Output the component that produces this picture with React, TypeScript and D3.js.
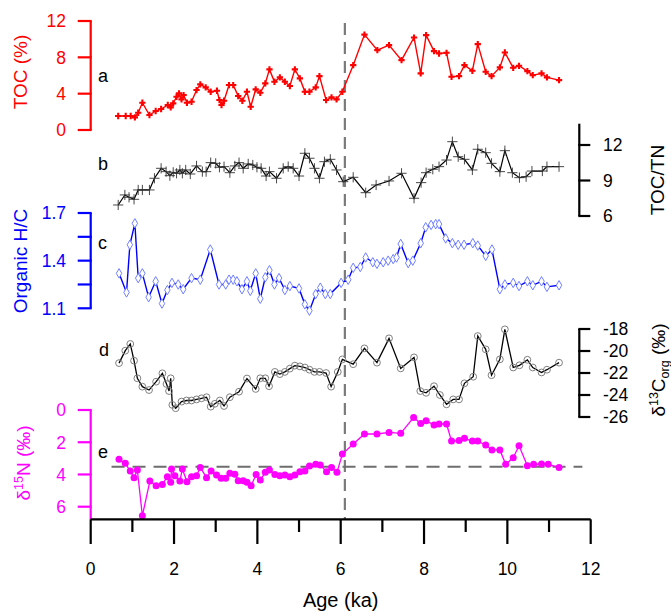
import React from "react";
import * as d3 from "d3";

// ---------- data ----------
const ageTicks = [0, 1, 2, 3, 4, 5, 6, 7, 8, 9, 10, 11, 12];
const ageLabels = [0, 2, 4, 6, 8, 10, 12];

const tocAge = [0.66,0.84,0.96,1.06,1.14,1.24,1.41,1.56,1.69,1.85,1.92,1.98,2.06,2.12,2.18,2.23,2.31,2.42,2.54,2.63,2.76,2.88,3.03,3.09,3.14,3.20,3.32,3.42,3.54,3.64,3.75,3.84,3.96,4.07,4.19,4.29,4.41,4.54,4.66,4.78,4.90,5.02,5.14,5.25,5.40,5.49,5.65,5.78,5.90,6.04,6.30,6.57,6.88,7.16,7.46,7.76,7.92,8.05,8.24,8.36,8.54,8.66,8.84,8.97,9.16,9.29,9.48,9.62,9.82,9.94,10.14,10.28,10.48,10.61,10.82,10.95,11.24];
const tocVal = [1.54,1.54,1.54,1.39,1.90,3.0,1.65,2.09,2.31,2.75,2.49,2.93,3.66,4.03,3.37,3.85,3.0,3.11,4.40,5.02,4.69,4.21,4.32,3.30,2.75,3.22,4.95,4.95,3.74,3.22,4.21,2.56,4.47,4.1,5.13,6.67,5.31,5.79,5.31,4.84,6.67,5.68,4.21,4.21,4.69,5.93,3.30,3.59,3.37,4.21,7.14,10.5,8.79,9.34,7.69,10.18,6.23,10.44,8.68,8.42,8.50,5.86,5.93,7.14,6.52,9.45,6.41,5.93,6.89,8.53,6.85,7.07,6.48,6.04,6.23,5.79,5.49];

const ctnAge = [0.66,0.82,0.92,1.04,1.14,1.24,1.41,1.53,1.69,1.81,1.90,1.98,2.06,2.14,2.20,2.28,2.39,2.54,2.68,2.77,2.88,3.00,3.09,3.20,3.34,3.46,3.56,3.66,3.78,3.89,3.99,4.09,4.21,4.29,4.46,4.62,4.74,4.86,5.00,5.14,5.25,5.37,5.49,5.61,5.75,5.90,6.06,6.30,6.60,6.85,7.16,7.46,7.76,7.93,8.05,8.21,8.36,8.54,8.68,8.82,8.97,9.16,9.29,9.48,9.62,9.82,9.94,10.12,10.29,10.45,10.59,10.84,10.95,11.24];
const ctnVal = [6.93,7.78,7.58,7.41,8.20,8.20,8.20,9.19,10.03,9.75,9.41,9.69,9.61,9.89,9.61,9.89,9.55,10.23,9.75,9.75,10.51,10.45,10.12,10.17,9.66,10.23,10.51,10.03,10.40,10.31,10.12,10.03,9.38,9.75,9.19,10.03,10.17,10.03,9.38,11.30,10.88,10.03,9.19,10.59,10.79,9.89,8.90,9.27,7.97,8.62,8.96,9.61,7.50,8.82,9.66,9.95,10.17,10.73,12.28,11.01,10.79,9.89,11.64,11.35,10.45,9.75,11.52,9.66,9.24,9.32,9.80,9.80,10.17,10.17];

const hcAge = [0.68,0.86,0.94,1.06,1.14,1.24,1.39,1.56,1.71,1.84,1.95,2.10,2.22,2.42,2.63,2.87,3.08,3.24,3.32,3.42,3.51,3.63,3.75,3.83,3.96,4.07,4.19,4.29,4.41,4.52,4.66,4.78,5.00,5.14,5.25,5.40,5.51,5.63,5.75,6.01,6.18,6.30,6.47,6.60,6.77,6.87,7.02,7.14,7.26,7.34,7.44,7.62,7.73,7.92,8.04,8.17,8.28,8.36,8.52,8.68,8.82,8.96,9.17,9.29,9.48,9.63,9.82,9.94,10.14,10.28,10.48,10.61,10.82,10.95,11.24];
const hcVal = [1.32,1.20,1.50,1.635,1.29,1.32,1.17,1.27,1.13,1.215,1.26,1.25,1.22,1.29,1.28,1.47,1.25,1.25,1.28,1.28,1.27,1.22,1.27,1.21,1.32,1.16,1.295,1.34,1.25,1.29,1.215,1.24,1.225,1.125,1.085,1.19,1.23,1.19,1.19,1.26,1.28,1.355,1.36,1.42,1.39,1.38,1.39,1.40,1.41,1.42,1.505,1.385,1.40,1.51,1.61,1.625,1.63,1.63,1.54,1.51,1.50,1.50,1.51,1.495,1.43,1.47,1.22,1.25,1.26,1.24,1.27,1.245,1.27,1.235,1.245];

const d13Age = [0.68,0.83,0.95,1.04,1.12,1.24,1.40,1.57,1.72,1.82,1.88,1.92,1.96,2.04,2.18,2.30,2.42,2.54,2.66,2.78,2.88,2.98,3.10,3.20,3.34,3.56,3.75,3.96,4.07,4.19,4.28,4.42,4.54,4.66,4.78,4.90,5.02,5.14,5.25,5.37,5.49,5.65,5.77,5.93,6.04,6.30,6.57,6.87,7.16,7.44,7.76,7.91,8.05,8.24,8.38,8.54,8.70,8.84,8.97,9.18,9.29,9.48,9.62,9.82,9.94,10.14,10.29,10.48,10.61,10.82,10.95,11.24];
const d13Val = [-21.1,-19.97,-19.36,-20.88,-22.48,-23.24,-23.55,-22.79,-22.03,-23.0,-23.64,-22.48,-24.9,-25.2,-24.6,-24.5,-24.5,-24.4,-24.3,-24.2,-25.06,-24.8,-24.5,-25.0,-24.2,-23.7,-22.5,-23.45,-22.48,-22.48,-23.2,-21.9,-22.1,-21.9,-21.6,-21.33,-21.4,-21.5,-21.7,-21.9,-21.9,-22.0,-23.24,-21.9,-20.76,-21.2,-19.76,-21.06,-18.85,-21.58,-20.58,-23.64,-23.8,-23.2,-24.0,-24.85,-24.4,-24.4,-22.94,-22.34,-18.64,-19.85,-22.2,-20.76,-18.03,-21.5,-21.3,-20.8,-21.5,-21.95,-21.7,-21.06];

const d15Age = [0.68,0.83,0.95,1.04,1.12,1.24,1.42,1.57,1.72,1.84,1.92,1.94,2.02,2.14,2.20,2.31,2.42,2.54,2.63,2.78,2.89,3.02,3.13,3.24,3.34,3.46,3.54,3.66,3.75,3.85,3.97,4.07,4.19,4.29,4.42,4.54,4.66,4.78,4.90,5.02,5.14,5.25,5.40,5.51,5.66,5.78,5.91,6.04,6.30,6.57,6.87,7.16,7.44,7.75,7.92,8.05,8.24,8.36,8.54,8.66,8.84,8.97,9.16,9.29,9.48,9.63,9.82,9.96,10.14,10.28,10.48,10.63,10.82,10.98,11.24];
const d15Val = [3.06,3.31,3.79,4.2,3.73,6.56,4.41,4.70,4.62,4.14,4.49,3.66,4.08,4.41,3.66,4.45,4.14,4.08,3.56,4.2,3.79,4.04,4.24,4.24,3.93,3.98,4.39,4.39,4.49,4.70,4.0,4.35,3.87,3.73,4.0,4.08,4.04,4.14,4.04,3.83,3.79,3.48,3.37,3.42,3.83,3.56,3.87,2.73,2.11,1.49,1.49,1.39,1.45,0.46,0.83,0.66,0.93,0.87,0.87,1.93,1.90,1.76,1.93,1.93,2.17,2.48,2.48,3.37,2.96,2.22,3.46,3.37,3.35,3.37,3.56];

const tocTicks = [0, 4, 8, 12];
const ctnTicks = [6, 9, 12];
const hcTicks = [1.1, 1.25, 1.4, 1.55, 1.7];
const hcLabels = [1.1, 1.4, 1.7];
const d13Ticks = [-18, -20, -22, -24, -26];
const d15Ticks = [0, 2, 4, 6];

const boundaryAge = 6.1;
const d15Reference = 3.52;
const d15RefSpan = [0.5, 11.8];

// ---------- component ----------
const FONT = "'Liberation Sans', Arial, Helvetica, sans-serif";

export default function App() {
  const W = 671, H = 612;
  const x = d3.scaleLinear().domain([0, 12]).range([90.7, 590.7]);
  const yA = d3.scaleLinear().domain([0, 12]).range([130, 21]);
  const yB = d3.scaleLinear().domain([6, 12]).range([216, 145]);
  const yC = d3.scaleLinear().domain([1.1, 1.7]).range([308.3, 213]);
  const yD = d3.scaleLinear().domain([-26, -18]).range([417, 329]);
  const yE = d3.scaleLinear().domain([0, 6]).range([410, 506.7]);
  const axisY = 519.3;
  const leftX = x(0);
  const rightX = 579.3;

  const mk = (ages: number[], vals: number[]) => ages.map((a, i) => [a, vals[i]] as [number, number]);
  const line = (ys: d3.ScaleLinear<number, number>) =>
    d3.line<[number, number]>().x(d => x(d[0])).y(d => ys(d[1]));

  const A = mk(tocAge, tocVal);
  const B = mk(ctnAge, ctnVal);
  const C = mk(hcAge, hcVal);
  const D = mk(d13Age, d13Val);
  const E = mk(d15Age, d15Val);

  const crossPath = d3.symbol(d3.symbolCross, 22)()!;
  const plusPath = d3.symbol(d3.symbolPlus, 36)()!;
  const diamondPath = d3.symbol(d3.symbolDiamond, 26)()!;

  const tickFs = 17.5;
  const titleFs = 19;

  const leftAxis = (ys: d3.ScaleLinear<number, number>, ticks: number[], labels: number[], color: string, y0: number, y1: number, fmt = (v: number) => String(v)) => (
    <g>
      <line x1={leftX} x2={leftX} y1={y0} y2={y1} stroke={color} strokeWidth={2.2} />
      {ticks.map(t => (
        <line key={"t" + t} x1={leftX - 13} x2={leftX + 1} y1={ys(t)} y2={ys(t)} stroke={color} strokeWidth={2.2} />
      ))}
      {labels.map(t => (
        <text key={"l" + t} x={66} y={ys(t)} dy="0.36em" textAnchor="end" fill={color} fontSize={tickFs} fontFamily={FONT}>{fmt(t)}</text>
      ))}
    </g>
  );

  const rightAxis = (ys: d3.ScaleLinear<number, number>, ticks: number[], y0: number, y1: number) => (
    <g>
      <line x1={rightX} x2={rightX} y1={y0} y2={y1} stroke="#000" strokeWidth={2.2} />
      {ticks.map(t => (
        <line key={"t" + t} x1={rightX - 1} x2={rightX + 11} y1={ys(t)} y2={ys(t)} stroke="#000" strokeWidth={2.2} />
      ))}
      {ticks.map(t => (
        <text key={"l" + t} x={603} y={ys(t)} dy="0.36em" textAnchor="start" fill="#000" fontSize={tickFs} fontFamily={FONT}>{String(t)}</text>
      ))}
    </g>
  );

  return (
    <svg width={W} height={H} style={{ position: "absolute", left: 0, top: 0, background: "#fff" }} fontFamily={FONT}>
      <rect width={W} height={H} fill="#fff" />

      {/* vertical dashed boundary */}
      <line x1={x(boundaryAge)} x2={x(boundaryAge)} y1={23} y2={axisY} stroke="#7a7a7a" strokeWidth={2.2} strokeDasharray="12 7" />
      {/* horizontal dashed reference in e */}
      <line x1={x(d15RefSpan[0])} x2={x(d15RefSpan[1])} y1={yE(d15Reference)} y2={yE(d15Reference)} stroke="#6e6e6e" strokeWidth={2.2} strokeDasharray="13 8" />

      {/* a: TOC */}
      {leftAxis(yA, tocTicks, tocTicks, "#ff0000", yA(12), yA(0))}
      <text transform={`translate(27,72) rotate(-90)`} textAnchor="middle" fill="#ff0000" fontSize={titleFs}>TOC (%)</text>
      <text x={98} y={82} fontSize={18} fill="#000">a</text>
      <path d={line(yA)(A)!} fill="none" stroke="#ff0000" strokeWidth={1.4} />
      {A.map((d, i) => (
        <path key={i} d={crossPath} transform={`translate(${x(d[0])},${yA(d[1])})`} fill="#ff0000" />
      ))}

      {/* b: TOC/TN */}
      {rightAxis(yB, ctnTicks, yB(13.8), yB(6))}
      <text transform={`translate(664,180) rotate(-90)`} textAnchor="middle" fill="#000" fontSize={titleFs}>TOC/TN</text>
      <text x={98} y={170} fontSize={18} fill="#000">b</text>
      <path d={line(yB)(B)!} fill="none" stroke="#000" strokeWidth={1.2} />
      {B.map((d, i) => (
        <path key={i} d={plusPath} transform={`translate(${x(d[0])},${yB(d[1])})`} fill="none" stroke="#333" strokeWidth={0.9} />
      ))}

      {/* c: Organic H/C */}
      {leftAxis(yC, hcTicks, hcLabels, "#0000ff", yC(1.7), yC(1.1), v => v.toFixed(1))}
      <text transform={`translate(27,261) rotate(-90)`} textAnchor="middle" fill="#0000ff" fontSize={titleFs}>Organic H/C</text>
      <text x={98} y={249} fontSize={18} fill="#000">c</text>
      <path d={line(yC)(C)!} fill="none" stroke="#0000ff" strokeWidth={1.4} />
      {C.map((d, i) => (
        <path key={i} d={diamondPath} transform={`translate(${x(d[0])},${yC(d[1])})`} fill="#fff" stroke="#7080ff" strokeWidth={1} />
      ))}

      {/* d: d13C */}
      {rightAxis(yD, d13Ticks, yD(-18), yD(-26))}
      <text transform={`translate(665,370) rotate(-90)`} textAnchor="middle" fill="#000" fontSize={titleFs}>
        δ<tspan fontSize={12.5} dy={-7}>13</tspan><tspan dy={7}>C</tspan><tspan fontSize={12.5} dy={4}>org</tspan><tspan dy={-4}> (‰)</tspan>
      </text>
      <text x={99} y={356} fontSize={18} fill="#000">d</text>
      <path d={line(yD)(D)!} fill="none" stroke="#000" strokeWidth={1.3} />
      {D.map((d, i) => (
        <circle key={i} cx={x(d[0])} cy={yD(d[1])} r={3.4} fill="none" stroke="#7f7f7f" strokeWidth={1} />
      ))}

      {/* e: d15N */}
      {leftAxis(yE, d15Ticks, d15Ticks, "#ff00ff", yE(0), axisY)}
      <text transform={`translate(30,463) rotate(-90)`} textAnchor="middle" fill="#ff00ff" fontSize={titleFs}>
        δ<tspan fontSize={12.5} dy={-7}>15</tspan><tspan dy={7}>N (‰)</tspan>
      </text>
      <text x={98} y={458} fontSize={18} fill="#000">e</text>
      <path d={line(yE)(E)!} fill="none" stroke="#ff00ff" strokeWidth={1.3} />
      {E.map((d, i) => (
        <circle key={i} cx={x(d[0])} cy={yE(d[1])} r={3.5} fill="#ff00ff" />
      ))}

      {/* x axis */}
      <line x1={x(0)} x2={x(12)} y1={axisY} y2={axisY} stroke="#000" strokeWidth={2.2} />
      {ageTicks.map(t => (
        <line key={t} x1={x(t)} x2={x(t)} y1={axisY} y2={t % 2 === 0 ? 544 : 532} stroke="#000" strokeWidth={2.2} />
      ))}
      {ageLabels.map(t => (
        <text key={t} x={x(t)} y={575} textAnchor="middle" fontSize={tickFs} fill="#000">{t}</text>
      ))}
      <text x={x(6)} y={607} textAnchor="middle" fontSize={20} fill="#000">Age (ka)</text>
    </svg>
  );
}
